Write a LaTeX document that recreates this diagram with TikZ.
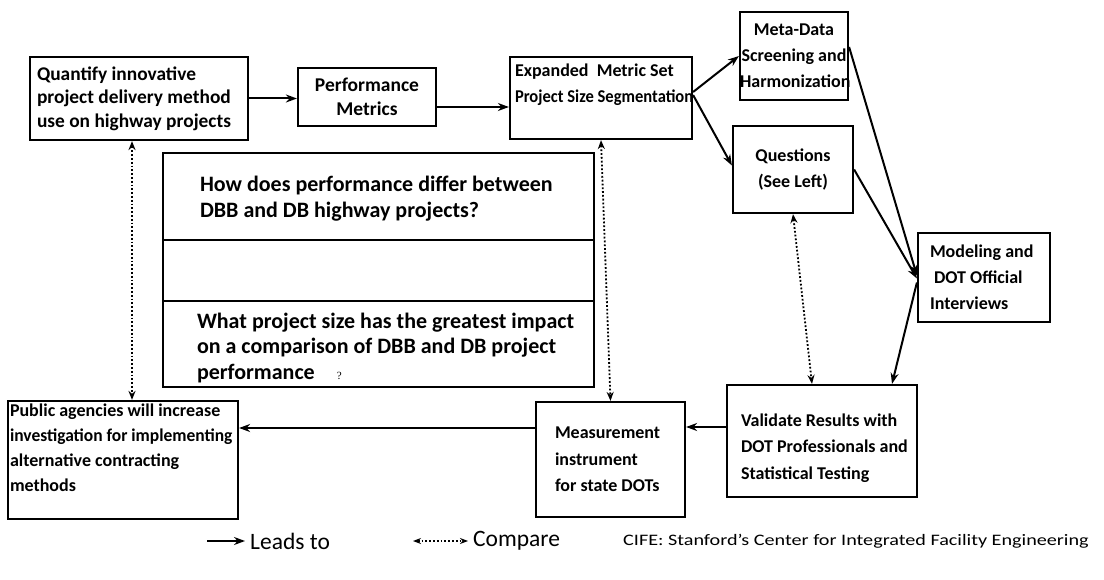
\documentclass[tikz,border=0pt]{standalone}
\usepackage{fontspec}
\setmainfont{Carlito}
\newfontfamily\qmarkfont{Liberation Serif}
\usetikzlibrary{arrows.meta}
% body of a framed box: width, height, vertical position, layout commands, text
\newcommand{\boxbody}[5]{\parbox[c][#2][#3]{#1}{#4#5}}
\begin{document}
\begin{tikzpicture}[x=1pt,y=-1pt,
  stepbox/.style={draw, line width=2.2pt, inner sep=0pt,
    font=\bfseries\fontsize{18}{24}\selectfont},
  rowbox/.style={draw, line width=1.8pt, inner sep=0pt,
    font=\bfseries\fontsize{22}{25.5}\selectfont},
  lead/.style={line width=2pt, -{Stealth[length=11pt,width=8pt]}},
  cmp/.style={line width=1.8pt, dotted,
    {Stealth[length=9pt,width=7pt]}-{Stealth[length=9pt,width=7pt]}},
  legend/.style={font=\fontsize{23.5}{26}\selectfont, inner sep=5pt}]
\useasboundingbox (0,0) rectangle (1104,580);
\fill[white] (0,0) rectangle (1104,580);

% process boxes
\node[stepbox] (q) at (139,98.5) {\boxbody{218pt}{83pt}{c}{\raggedright\leftskip=7pt\fontsize{19.4}{23.5}\selectfont}
  {Quantify innovative\\project delivery method\\use on highway projects}};
\node[stepbox] (pm) at (367,97) {\boxbody{138pt}{58pt}{c}{\centering\fontsize{19.5}{23.5}\selectfont}
  {Performance\\Metrics}};
\node[stepbox] (e) at (601,98) {\boxbody{182pt}{82pt}{t}{\raggedright\leftskip=5pt\vspace*{7pt}\fontsize{18}{26}\selectfont}
  {Expanded\ \ Metric Set\\\mbox{\scalebox{0.92}[1]{Project Size Segmentation}}}};
\node[stepbox] (meta) at (794,56) {\boxbody{108pt}{88pt}{c}{\centering\fontsize{18}{26}\selectfont}
  {Meta-Data\\Screening and\\Harmonization}};
\node[stepbox] (qs) at (793,169.5) {\boxbody{120pt}{87pt}{c}{\centering\fontsize{18}{26}\selectfont}
  {Questions\\(See Left)}};
\node[stepbox] (mod) at (984,277.5) {\boxbody{132pt}{89pt}{c}{\raggedright\leftskip=12pt\fontsize{18}{26}\selectfont}
  {Modeling and\\\hspace*{4pt}DOT Official\\Interviews}};
\node[stepbox] (v) at (822,441) {\boxbody{190pt}{112pt}{c}{\raggedright\leftskip=14pt\vspace*{14pt}\fontsize{18}{26.5}\selectfont}
  {Validate Results with\\DOT Professionals and\\Statistical Testing}};
\node[stepbox] (ms) at (610.5,459.5) {\boxbody{149pt}{115pt}{c}{\raggedright\leftskip=19pt\fontsize{18}{26.5}\selectfont}
  {Measurement\\instrument\\for state DOTs}};
\node[stepbox] (pub) at (123,460) {\boxbody{230pt}{118pt}{t}{\raggedright\leftskip=2pt\vspace*{3pt}\fontsize{18}{25}\selectfont}
  {\mbox{Public agencies will increase}\\\mbox{\scalebox{0.97}[1]{investigation for implementing}}\\\mbox{alternative contracting}\\methods}};

% research questions table
\node[rowbox] (r1) at (378.5,196.5) {\boxbody{431pt}{87pt}{c}{\raggedright\leftskip=37pt\vspace*{4pt}}
  {How does performance differ between\\DBB and DB highway projects?}};
\node[rowbox, minimum width=431pt, minimum height=61pt] (r2) at (378.5,270.5) {};
\node[rowbox] (r3) at (378.5,344) {\boxbody{431pt}{86pt}{c}{\raggedright\leftskip=34pt\vspace*{8pt}}
  {\mbox{What project size has the greatest impact}\\on a comparison of DBB and DB project\\performance\hspace{22pt}{\qmarkfont\mdseries\fontsize{11}{11}\selectfont ?}}};

% flow
\draw[lead] (q.east) -- (q.east -| pm.west);
\draw[lead] ([yshift=-10pt]pm.east) -- ([yshift=-10pt]pm.east -| e.west);
\draw[lead] ([yshift=6pt]e.east) -- (meta.west);
\draw[lead] ([yshift=3pt]e.east) -- ([yshift=4pt]qs.west);
\draw[lead] ([yshift=9pt]meta.east) -- ([yshift=2pt]mod.west);
\draw[lead] (qs.east) -- ([yshift=-1pt]mod.west);
\draw[lead] ([yshift=-5pt]mod.west) -- ([xshift=70pt]v.north);
\draw[lead] ([yshift=14pt]v.west) -- ([yshift=14pt]v.west -| ms.east);
\draw[lead] ([yshift=31.5pt]ms.west) -- ([yshift=31.5pt]ms.west -| pub.east);

% comparisons
\draw[cmp] ([xshift=-7pt]q.south) -- ([xshift=-7pt]q.south |- pub.north);
\draw[cmp] (e.south) -- (ms.north);
\draw[cmp] (qs.south) -- ([xshift=-10pt]v.north);

% legend
\node[legend, anchor=west] (leads) at (245,541) {Leads to};
\coordinate (leadsfrom) at (207,541);
\draw[lead] (leadsfrom) -- (leads.west);
\node[legend, anchor=west] (compare) at (468,541) {Compare};
\coordinate (comparefrom) at (413,541);
\draw[cmp, line width=1.5pt, {Stealth[length=8pt,width=6pt]}-{Stealth[length=8pt,width=6pt]}] (comparefrom) -- (compare.west);
\node[anchor=west, inner sep=0pt, font=\fontsize{16}{16}\selectfont] (cife) at (623,541)
  {\scalebox{1.26}[1]{CIFE: Stanford's Center for Integrated Facility Engineering}};
\end{tikzpicture}
\end{document}
